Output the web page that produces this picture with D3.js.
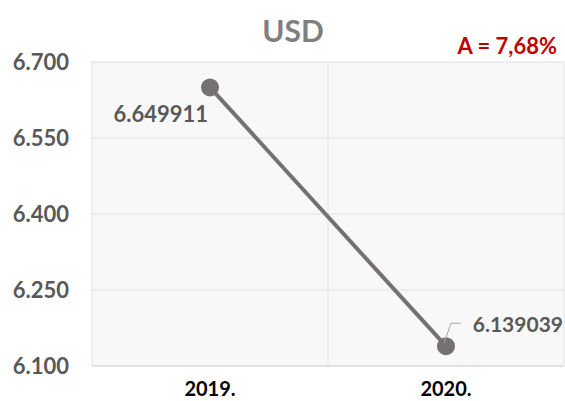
<!DOCTYPE html>
<html>
<head>
<meta charset="utf-8">
<script src="https://cdn.jsdelivr.net/npm/d3@7"></script>
<style>
  body { margin: 0; background: #fff; }
  text { font-family: Lato, "Open Sans", sans-serif; font-weight: bold; }
</style>
</head>
<body>
<script>
// chart data
var years = ["2019.", "2020."];
var rates = [6.649911, 6.139039];
var yTicks = [6.100, 6.250, 6.400, 6.550, 6.700];
var title = "USD";
var note = "A = 7,68%";

var width = 565, height = 401;
var margin = { top: 62, right: 1, bottom: 35, left: 92 };

var svg = d3.select("body").append("svg")
  .attr("width", width)
  .attr("height", height);

var x = d3.scaleBand()
  .domain(years)
  .range([margin.left, width - margin.right]);

var y = d3.scaleLinear()
  .domain([6.1, 6.7])
  .range([height - margin.bottom, margin.top]);

// plot background
svg.append("rect")
  .attr("x", margin.left)
  .attr("y", margin.top)
  .attr("width", width - margin.right - margin.left)
  .attr("height", y(6.1) - margin.top)
  .style("fill", "#f8f8f8");

// horizontal grid
svg.selectAll("line.hgrid")
  .data(yTicks)
  .enter()
  .append("line")
  .attr("class", "hgrid")
  .attr("x1", margin.left)
  .attr("x2", width - margin.right)
  .attr("y1", function(d) { return y(d); })
  .attr("y2", function(d) { return y(d); })
  .style("stroke", function(d) { return d == 6.1 ? "#d9d9d9" : "#e8e8e8"; })
  .style("stroke-width", 1.5);

// vertical grid (category boundaries)
var bounds = [margin.left, x(years[1]), width - margin.right];
svg.selectAll("line.vgrid")
  .data(bounds)
  .enter()
  .append("line")
  .attr("class", "vgrid")
  .attr("x1", function(d) { return d; })
  .attr("x2", function(d) { return d; })
  .attr("y1", margin.top)
  .attr("y2", y(6.1))
  .style("stroke", "#ebebeb")
  .style("stroke-width", 1.5);

// y axis labels
svg.selectAll("text.ytick")
  .data(yTicks)
  .enter()
  .append("text")
  .attr("class", "ytick")
  .attr("x", 69)
  .attr("y", function(d) { return y(d) + 8; })
  .attr("text-anchor", "end")
  .style("font-size", "22px")
  .style("fill", "#595959")
  .text(function(d) { return d3.format(".3f")(d); });

// x axis labels
svg.selectAll("text.xtick")
  .data(years)
  .enter()
  .append("text")
  .attr("class", "xtick")
  .attr("x", function(d) { return x(d) + x.bandwidth() / 2; })
  .attr("y", 396)
  .attr("text-anchor", "middle")
  .style("font-size", "20px")
  .style("fill", "#000")
  .text(function(d) { return d; });

// line
var pts = years.map(function(d, i) { return [x(d) + x.bandwidth() / 2, y(rates[i])]; });
var line = d3.line();
svg.append("path")
  .attr("d", line(pts))
  .style("fill", "none")
  .style("stroke", "#767171")
  .style("stroke-width", 4);

svg.selectAll("circle.pt")
  .data(pts)
  .enter()
  .append("circle")
  .attr("class", "pt")
  .attr("cx", function(d) { return d[0]; })
  .attr("cy", function(d) { return d[1]; })
  .attr("r", 9)
  .style("fill", "#767171");

// data labels
svg.append("text")
  .attr("x", pts[0][0] - 2)
  .attr("y", pts[0][1] + 35)
  .attr("text-anchor", "end")
  .style("font-size", "22px")
  .style("fill", "#595959")
  .text(d3.format(".6f")(rates[0]));

svg.append("path")
  .attr("d", "M" + (pts[1][0] - 2) + "," + (pts[1][1] - 3) + "L" + (pts[1][0] + 5) + "," + (pts[1][1] - 23) + "L" + (pts[1][0] + 15) + "," + (pts[1][1] - 23))
  .style("fill", "none")
  .style("stroke", "#a6a6a6")
  .style("stroke-width", 1);

svg.append("text")
  .attr("x", width - 2)
  .attr("y", pts[1][1] - 14)
  .attr("text-anchor", "end")
  .style("font-size", "21px")
  .style("fill", "#595959")
  .text(d3.format(".6f")(rates[1]));

// title and note
svg.append("text")
  .attr("x", 293)
  .attr("y", 42)
  .attr("text-anchor", "middle")
  .style("font-size", "30px")
  .style("fill", "#7f7f7f")
  .text(title);

svg.append("text")
  .attr("x", 557)
  .attr("y", 54)
  .attr("text-anchor", "end")
  .style("font-size", "22px")
  .style("fill", "#c00000")
  .text(note);
</script>
</body>
</html>
